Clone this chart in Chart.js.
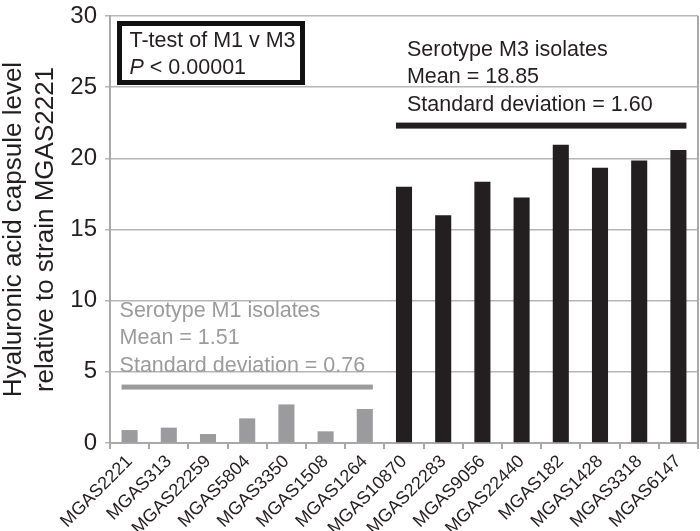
<!DOCTYPE html>
<html>
<head>
<meta charset="utf-8">
<script src="https://cdn.jsdelivr.net/npm/chart.js@4/dist/chart.umd.min.js"></script>
<style>
  html, body { margin: 0; padding: 0; background: #fff; }
  #wrap { width: 700px; height: 531px; }
</style>
</head>
<body>
<div id="wrap"><canvas id="myChart" width="700" height="531"></canvas></div>
<script>
// DATA
const strains = ["MGAS2221", "MGAS313", "MGAS22259", "MGAS5804", "MGAS3350", "MGAS1508", "MGAS1264",
  "MGAS10870", "MGAS22283", "MGAS9056", "MGAS22440", "MGAS182", "MGAS1428", "MGAS3318", "MGAS6147"];
const serotypes = ["M1", "M1", "M1", "M1", "M1", "M1", "M1",
  "M3", "M3", "M3", "M3", "M3", "M3", "M3", "M3"];
const capsuleLevels = [0.91, 1.08, 0.63, 1.73, 2.71, 0.82, 2.39,
  18.01, 16.0, 18.36, 17.24, 20.96, 19.33, 19.84, 20.59];
const yTicks = [0, 5, 10, 15, 20, 25, 30];

const groupNames = ["M1", "M3"];
const groupMeans = ["1.51", "18.85"];
const groupSDs = ["0.76", "1.60"];
const bracketLevels = [3.93, 22.3];
const testLines = ["T-test of M1 v M3", "< 0.00001"];

const GRAY = "#9b9b9d";
const BLACK = "#231f20";
const groupColors = { M1: GRAY, M3: BLACK };
const FONT = "'Liberation Sans', Arial, sans-serif";

//ANNOTATIONS: brackets, group text, t-test box
const annotations = {
  id: "annotations",
  afterDatasetsDraw(chart) {
    const ctx = chart.ctx;
    const y = chart.scales.y;
    const area = chart.chartArea;
    const bars = chart.getDatasetMeta(0).data;

    // right border of the plot
    ctx.save();
    ctx.strokeStyle = "#a9a9a9";
    ctx.lineWidth = 2;
    ctx.beginPath();
    ctx.moveTo(area.right, area.top);
    ctx.lineTo(area.right, area.bottom);
    ctx.stroke();

    groupNames.forEach(function (g, gi) {
      const idx = [];
      serotypes.forEach(function (s, i) { if (s === g) idx.push(i); });
      const first = bars[idx[0]], last = bars[idx[idx.length - 1]];
      const x0 = first.x - first.width / 2;
      const x1 = last.x + last.width / 2;
      const by = y.getPixelForValue(bracketLevels[gi]);

      ctx.fillStyle = groupColors[g];
      ctx.fillRect(x0, by - (gi ? 3 : 2.5), x1 - x0, gi ? 6 : 5);

      ctx.font = "21.5px " + FONT;
      ctx.textAlign = "left";
      ctx.textBaseline = "alphabetic";
      const tx = gi ? x0 + 11 : x0 - 2;
      ctx.fillText("Serotype " + g + " isolates", tx, by - 70);
      ctx.fillText("Mean = " + groupMeans[gi], tx, by - 43);
      ctx.fillText("Standard deviation = " + groupSDs[gi], tx, by - 15);
    });

    // t-test box
    const bx = area.left + 9.5, bt = area.top + 7.5;
    ctx.strokeStyle = "#111";
    ctx.lineWidth = 5;
    ctx.fillStyle = "#fff";
    ctx.fillRect(bx, bt, 183, 59);
    ctx.strokeRect(bx, bt, 183, 59);
    ctx.fillStyle = BLACK;
    ctx.font = "21.5px " + FONT;
    ctx.fillText(testLines[0], bx + 10, bt + 23);
    ctx.font = "italic 21.5px " + FONT;
    ctx.fillText("P", bx + 10, bt + 50);
    const pw = ctx.measureText("P ").width;
    ctx.font = "21.5px " + FONT;
    ctx.fillText(testLines[1], bx + 10 + pw, bt + 50);
    ctx.restore();
  }
};

const ctx = document.getElementById("myChart").getContext("2d");
new Chart(ctx, {
  type: "bar",
  data: {
    labels: strains,
    datasets: [{
      data: capsuleLevels,
      backgroundColor: serotypes.map(function (s) { return groupColors[s]; }),
      borderWidth: 0,
      barPercentage: 0.41,
      categoryPercentage: 1.0
    }]
  },
  options: {
    responsive: false,
    animation: false,
    devicePixelRatio: 1,
    layout: { padding: { top: 16, right: 2, left: 0, bottom: 0 } },
    plugins: { legend: { display: false }, tooltip: { enabled: false } },
    scales: {
      x: {
        grid: { drawOnChartArea: false, drawTicks: true, tickLength: 6, color: "#a9a9a9", lineWidth: 2, offset: true },
        border: { color: "#a9a9a9", width: 2 },
        ticks: {
          autoSkip: false, minRotation: 45, maxRotation: 45, padding: 2,
          color: BLACK, font: { family: FONT, size: 18 }
        },
        afterFit: function (scale) {
          scale.height = 88;
          scale.paddingLeft = 0;
          scale.paddingRight = 0;
        }
      },
      y: {
        min: 0, max: 30,
        afterBuildTicks: function (scale) { scale.ticks = yTicks.map(function (v) { return { value: v }; }); },
        grid: { color: "#b5b5b5", lineWidth: 1.5, tickLength: 5 },
        border: { color: "#a9a9a9", width: 2 },
        ticks: { padding: 8, color: BLACK, font: { family: FONT, size: 24 } },
        title: {
          display: true,
          text: ["Hyaluronic acid capsule level", "relative to strain MGAS2221"],
          color: BLACK,
          font: { family: FONT, size: 26, lineHeight: 1.23 },
          padding: { top: -2, bottom: 0 }
        },
        afterFit: function (scale) {
          scale.width = 110;
          scale.paddingTop = 0;
          scale.paddingBottom = 0;
        }
      }
    }
  },
  plugins: [annotations]
});
</script>
</body>
</html>
